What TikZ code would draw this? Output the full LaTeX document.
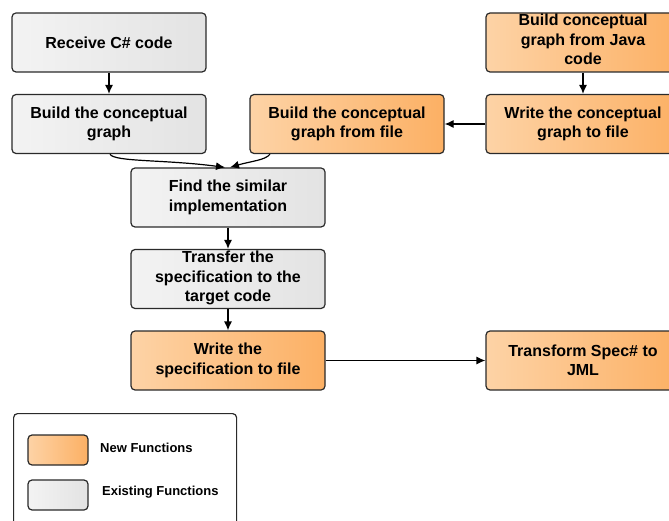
\documentclass[tikz,border=0pt]{standalone}
\usepackage{fontspec}
\setmainfont{Liberation Sans}
\usetikzlibrary{arrows.meta,calc}
\definecolor{orangeL}{HTML}{FDD3A6}
\definecolor{orangeR}{HTML}{FCB064}
\definecolor{greyL}{HTML}{F3F3F3}
\definecolor{greyR}{HTML}{E3E3E3}
\definecolor{edge}{HTML}{2A2A2A}
\tikzset{
  box/.style={draw=edge, line width=1.2pt, rounded corners=4pt,
    minimum width=194pt, minimum height=59pt, align=center,
    font=\fontsize{16}{19.5}\selectfont\bfseries, inner sep=0pt},
  newfn/.style={box, left color=orangeL, right color=orangeR},
  oldfn/.style={box, left color=greyL, right color=greyR},
  boxtext/.style={font=\fontsize{16}{19.5}\selectfont\bfseries, align=center, inner sep=0pt},
  swatch/.style={draw=edge, line width=1.2pt, rounded corners=4pt,
    minimum width=60pt, minimum height=30pt, inner sep=0pt},
  legtext/.style={font=\fontsize{13}{15}\selectfont\bfseries, anchor=west, inner sep=0pt},
  flow/.style={draw=black, line width=1.2pt, -{Latex[length=9pt,width=8pt]}}
}
\begin{document}
\begin{tikzpicture}[x=1pt,y=-1pt]
\useasboundingbox (0,0) rectangle (669,521);
\clip (0,0) rectangle (669,521);

% main flow
\node[oldfn] (recv) at (109,42.5) {Receive C\# code};
\node[oldfn] (bcg) at (109,124) {Build the conceptual\\graph};
\node[newfn] (bff) at (347,124) {Build the conceptual\\graph from file};
\node[newfn] (java) at (583,42.5) {};
\node[boxtext] (javatext) at (583,39.5) {Build conceptual\\graph from Java\\code};
\node[newfn] (wcg) at (583,124) {Write the conceptual\\graph to file};
\node[oldfn] (find) at (228,197.5) {Find the similar\\implementation};
\node[oldfn] (trans) at (228,279) {};
\node[boxtext] (transtext) at (228,278) {Transfer the\\specification to the\\target code};
\node[newfn] (wspec) at (228,360.5) {Write the\\specification to file};
\node[newfn] (tjml) at (583,360.5) {Transform Spec\# to\\JML};

% connectors
\draw[flow] (java) -- (wcg);
\draw[flow] (recv) -- (bcg);
\draw[flow] (wcg.west) -- (bff.east);
\draw[flow] ([xshift=1pt]bcg.south) .. controls +(4,8) and +(-60,-8) .. ([xshift=-3pt]find.north);
\draw[flow] ([xshift=-77pt]bff.south) .. controls +(-4,6) and +(20,-6) .. ([xshift=2pt]find.north);
\draw[flow] (find) -- (trans);
\draw[flow] (trans) -- (wspec);
\draw[flow] (wspec.east) -- (tjml.west);

% legend
\node[draw=edge, line width=1.2pt, rounded corners=4pt, minimum width=223pt,
  minimum height=130pt, inner sep=0pt, anchor=north west] (legend) at (13,413) {};
\node[swatch, left color=orangeL, right color=orangeR] (snew) at (58,450) {};
\node[swatch, left color=greyL, right color=greyR] (sold) at (58,495) {};
\node[legtext] (lnew) at (100,448) {New Functions};
\node[legtext] (lold) at (102,492) {Existing Functions};
\end{tikzpicture}
\end{document}
